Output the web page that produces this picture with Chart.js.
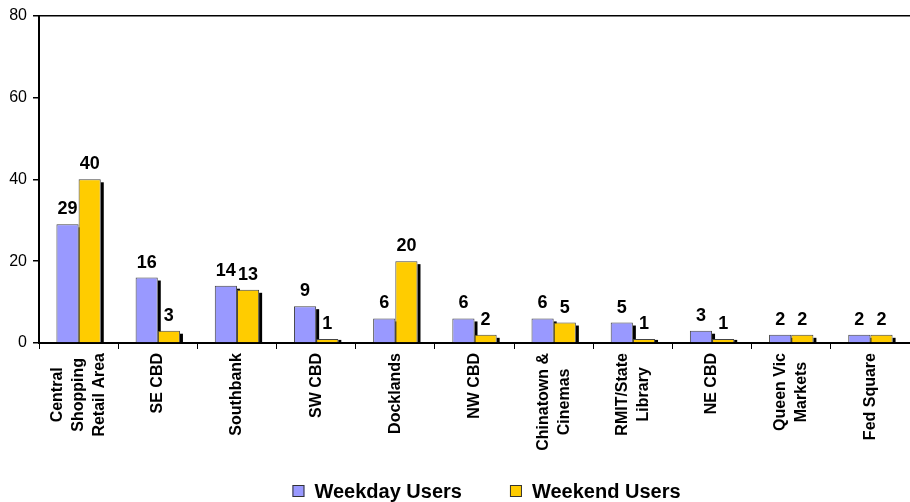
<!DOCTYPE html>
<html>
<head>
    <meta charset="utf-8">
    <title>Weekday and weekend users by area</title>
    <script src="https://cdn.jsdelivr.net/npm/chart.js"></script>
    <style>
        html, body {
            margin: 0;
            background: #fff;
        }

        #chart-container {
            width: 910px;
            height: 502px;
        }
    </style>
</head>
<body>
    <div id="chart-container">
        <canvas id="chart" width="910" height="502"></canvas>
    </div>

    <script>
        // data
        const areas = [
            ['Central', 'Shopping', 'Retail Area'],
            ['SE CBD'],
            ['Southbank'],
            ['SW CBD'],
            ['Docklands'],
            ['NW CBD'],
            ['Chinatown &', 'Cinemas'],
            ['RMIT/State', 'Library'],
            ['NE CBD'],
            ['Queen Vic', 'Markets'],
            ['Fed Square']
        ];
        const weekdayUsers = [29, 16, 14, 9, 6, 6, 6, 5, 3, 2, 2];
        const weekendUsers = [40, 3, 13, 1, 20, 2, 5, 1, 1, 2, 2];
        const yTicks = [0, 20, 40, 60, 80];

        const FONT = 'Arial, "Liberation Sans", sans-serif';

        // dark shadow on the right side of each bar (excel 3d look)
        const barShadow = {
            id: 'barShadow',
            beforeDatasetsDraw(chart) {
                const ctx = chart.ctx;
                ctx.save();
                ctx.fillStyle = '#000';
                chart.data.datasets.forEach((ds, i) => {
                    chart.getDatasetMeta(i).data.forEach(bar => {
                        const h = bar.base - bar.y;
                        if (h <= 4) {
                            ctx.fillRect(bar.x + bar.width / 2, bar.y + 1, 3, h);
                        } else {
                            ctx.fillRect(bar.x + bar.width / 2, bar.y + 3, 3, h - 3);
                        }
                    });
                });
                ctx.restore();
            }
        };

        // value labels above bars
        const valueLabels = {
            id: 'valueLabels',
            afterDatasetsDraw(chart) {
                const ctx = chart.ctx;
                ctx.save();
                ctx.font = 'bold 18px ' + FONT;
                ctx.fillStyle = '#000';
                ctx.textAlign = 'center';
                ctx.textBaseline = 'alphabetic';
                chart.data.datasets.forEach((ds, i) => {
                    chart.getDatasetMeta(i).data.forEach((bar, j) => {
                        ctx.fillText(ds.data[j], bar.x, bar.y - 10);
                    });
                });
                ctx.restore();
            }
        };

        // rotated category labels, lines centred on each other
        const areaLabels = {
            id: 'areaLabels',
            afterDraw(chart) {
                const ctx = chart.ctx;
                const xs = chart.scales.x;
                ctx.save();
                ctx.font = 'bold 16px ' + FONT;
                ctx.fillStyle = '#000';
                ctx.textAlign = 'center';
                ctx.textBaseline = 'middle';
                areas.forEach((lines, i) => {
                    const x = xs.getPixelForValue(i);
                    const w = Math.max(...lines.map(l => ctx.measureText(l).width));
                    const yc = xs.top + 10 + w / 2;
                    lines.forEach((line, k) => {
                        const off = (k - (lines.length - 1) / 2) * 21;
                        ctx.save();
                        ctx.translate(x + off, yc);
                        ctx.rotate(-Math.PI / 2);
                        ctx.fillText(line, 0, 0);
                        ctx.restore();
                    });
                });
                ctx.restore();
            }
        };

        // legend under the plot, drawn by hand to place it like the original
        const bottomLegend = {
            id: 'bottomLegend',
            afterDraw(chart) {
                const ctx = chart.ctx;
                const area = chart.chartArea;
                ctx.save();
                ctx.font = 'bold 20px ' + FONT;
                ctx.textBaseline = 'middle';
                ctx.textAlign = 'left';
                const items = chart.data.datasets.map(ds => ({
                    text: ds.label,
                    color: ds.backgroundColor,
                    w: ctx.measureText(ds.label).width
                }));
                const box = 12, gapText = 10, gapItem = 48;
                let total = 0;
                items.forEach((it, i) => {
                    total += box + gapText + it.w + (i ? gapItem : 0);
                });
                let x = (area.left + area.right) / 2 + 12 - total / 2;
                const y = 491;
                items.forEach(it => {
                    ctx.fillStyle = it.color;
                    ctx.fillRect(x, y - box / 2, box, box);
                    ctx.strokeStyle = '#333';
                    ctx.lineWidth = 1;
                    ctx.strokeRect(x + 0.5, y - box / 2 + 0.5, box - 1, box - 1);
                    ctx.fillStyle = '#000';
                    ctx.fillText(it.text, x + box + gapText, y + 1);
                    x += box + gapText + it.w + gapItem;
                });
                ctx.restore();
            }
        };

        const chart = new Chart(document.getElementById('chart').getContext('2d'), {
            type: 'bar',
            data: {
                labels: areas.map(a => a.join(' ')),
                datasets: [{
                    label: 'Weekday Users',
                    data: weekdayUsers,
                    backgroundColor: '#9999FF',
                    borderColor: '#444',
                    borderWidth: 1
                }, {
                    label: 'Weekend Users',
                    data: weekendUsers,
                    backgroundColor: '#FFCC00',
                    borderColor: '#444',
                    borderWidth: 1
                }]
            },
            options: {
                responsive: false,
                animation: false,
                layout: {
                    padding: { top: 15, right: 0, left: 0, bottom: 0 }
                },
                datasets: {
                    bar: {
                        categoryPercentage: 0.56,
                        barPercentage: 1
                    }
                },
                plugins: {
                    tooltip: { enabled: false },
                    legend: { display: false }
                },
                scales: {
                    x: {
                        grid: {
                            offset: true,
                            drawOnChartArea: false,
                            drawTicks: true,
                            tickLength: 6,
                            tickColor: '#000'
                        },
                        border: { display: true, color: '#000', width: 2 },
                        ticks: { display: false },
                        afterFit(scale) { scale.height = 159; }
                    },
                    y: {
                        min: 0,
                        max: 80,
                        afterBuildTicks(scale) {
                            scale.ticks = yTicks.map(v => ({ value: v }));
                        },
                        grid: {
                            color: ctx => ctx.tick && ctx.tick.value === 80 ? '#000' : 'rgba(0,0,0,0)',
                            tickColor: '#000',
                            tickLength: 6,
                            lineWidth: 1.5
                        },
                        border: { display: true, color: '#000', width: 2 },
                        ticks: {
                            color: '#000',
                            padding: 6,
                            font: { family: FONT, size: 16 }
                        },
                        afterFit(scale) { scale.width = 39; }
                    }
                }
            },
            plugins: [barShadow, valueLabels, areaLabels, bottomLegend]
        });
    </script>
</body>
</html>
